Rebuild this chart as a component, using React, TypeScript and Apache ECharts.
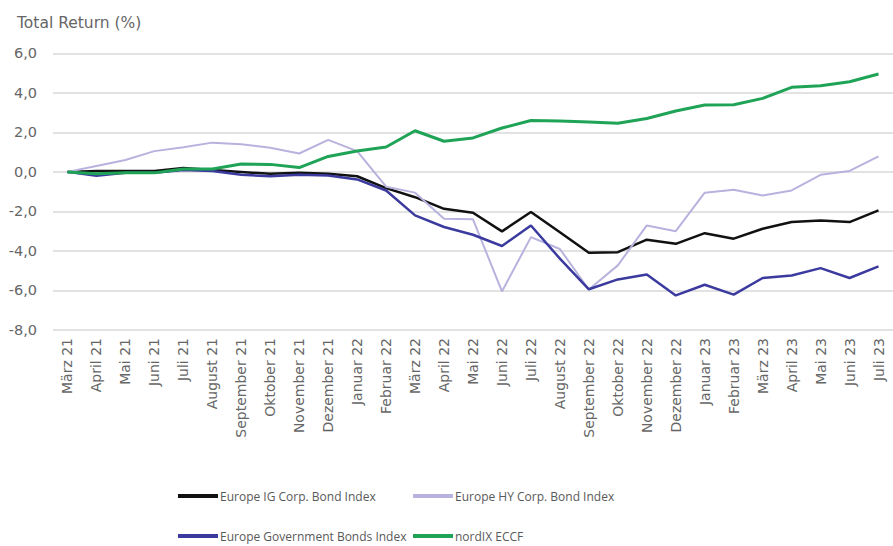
import React, { useEffect, useRef } from "react";
import * as echarts from "echarts";

const categories = [
  "März 21", "April 21", "Mai 21", "Juni 21", "Juli 21", "August 21", "September 21", "Oktober 21",
  "November 21", "Dezember 21", "Januar 22", "Februar 22", "März 22", "April 22", "Mai 22", "Juni 22",
  "Juli 22", "August 22", "September 22", "Oktober 22", "November 22", "Dezember 22", "Januar 23",
  "Februar 23", "März 23", "April 23", "Mai 23", "Juni 23", "Juli 23",
];

const igCorp = [0, 0.05, 0.05, 0.05, 0.2, 0.1, 0.0, -0.1, -0.05, -0.1, -0.22, -0.82, -1.28, -1.87, -2.07, -3.01, -2.03, -3.05, -4.09, -4.06, -3.43, -3.64, -3.1, -3.38, -2.88, -2.54, -2.46, -2.54, -1.95];
const hyCorp = [0, 0.3, 0.6, 1.05, 1.25, 1.48, 1.4, 1.22, 0.93, 1.62, 1.05, -0.75, -1.05, -2.37, -2.4, -6.05, -3.3, -3.9, -5.95, -4.73, -2.71, -3.0, -1.05, -0.9, -1.2, -0.94, -0.15, 0.05, 0.78];
const govBonds = [0, -0.2, -0.05, -0.05, 0.1, 0.05, -0.15, -0.22, -0.15, -0.18, -0.38, -0.94, -2.2, -2.79, -3.18, -3.75, -2.71, -4.39, -5.94, -5.44, -5.19, -6.25, -5.71, -6.21, -5.37, -5.24, -4.87, -5.37, -4.78];
const nordix = [0, -0.1, -0.05, -0.05, 0.15, 0.15, 0.4, 0.38, 0.22, 0.78, 1.06, 1.26, 2.08, 1.55, 1.72, 2.22, 2.6, 2.57, 2.52, 2.46, 2.7, 3.08, 3.38, 3.4, 3.72, 4.28, 4.36, 4.56, 4.95];

const seriesNames = [
  "Europe IG Corp. Bond Index",
  "Europe HY Corp. Bond Index",
  "Europe Government Bonds Index",
  "nordIX ECCF",
];

const FONT = "'Open Sans', 'Noto Sans', sans-serif";
const AXIS_FONT = "'DejaVu Sans', sans-serif";

export default function App() {
  const ref = useRef<HTMLDivElement>(null);
  useEffect(() => {
    if (!ref.current) return;
    const chart = echarts.init(ref.current, undefined, { renderer: "svg" });
    const legendBase = {
      itemWidth: 40,
      itemHeight: 4,
      icon: "rect",
      textStyle: { color: "#595959", fontSize: 12, fontFamily: FONT, padding: [0, 0, 0, -3] },
      padding: 0,
    };
    const mk = (name: string, data: number[], color: string, width: number) => ({
      name,
      type: "line",
      data,
      symbol: "none",
      lineStyle: { color, width },
      itemStyle: { color },
    });
    chart.setOption({
      animation: false,
      title: {
        text: "Total Return (%)",
        left: 12,
        top: 10,
        textStyle: { color: "#666", fontSize: 15.5, fontWeight: "normal", fontFamily: AXIS_FONT },
      },
      legend: [
        { ...legendBase, data: [seriesNames[0]], left: 178, top: 490 },
        { ...legendBase, data: [seriesNames[1]], left: 413, top: 490 },
        { ...legendBase, data: [seriesNames[2]], left: 178, top: 530 },
        { ...legendBase, data: [seriesNames[3]], left: 413, top: 530 },
      ],
      grid: { left: 53, right: -6.5, top: 53.3, bottom: 216, containLabel: false },
      xAxis: {
        type: "category",
        data: categories,
        boundaryGap: true,
        axisLine: { show: false },
        axisTick: { show: false },
        axisLabel: {
          rotate: 90,
          interval: 0,
          color: "#666",
          fontSize: 14,
          fontFamily: AXIS_FONT,
          margin: 8,
        },
      },
      yAxis: {
        type: "value",
        min: -8,
        max: 6,
        interval: 2,
        axisLine: { show: false },
        axisTick: { show: false },
        splitLine: { lineStyle: { color: "#d9d9d9", width: 1.5 } },
        axisLabel: {
          color: "#666",
          fontSize: 14.5,
          fontFamily: AXIS_FONT,
          margin: 16,
          formatter: (v: number) => v.toFixed(1).replace(".", ","),
        },
      },
      series: [
        mk(seriesNames[0], igCorp, "#111111", 2.5),
        mk(seriesNames[1], hyCorp, "#b7b3de", 2),
        mk(seriesNames[2], govBonds, "#3b3a9e", 2.5),
        mk(seriesNames[3], nordix, "#1fa356", 3),
      ],
    });
    return () => chart.dispose();
  }, []);
  return (
    <div
      ref={ref}
      style={{ position: "fixed", left: 0, top: 0, width: 893, height: 546, background: "#fff" }}
    />
  );
}
